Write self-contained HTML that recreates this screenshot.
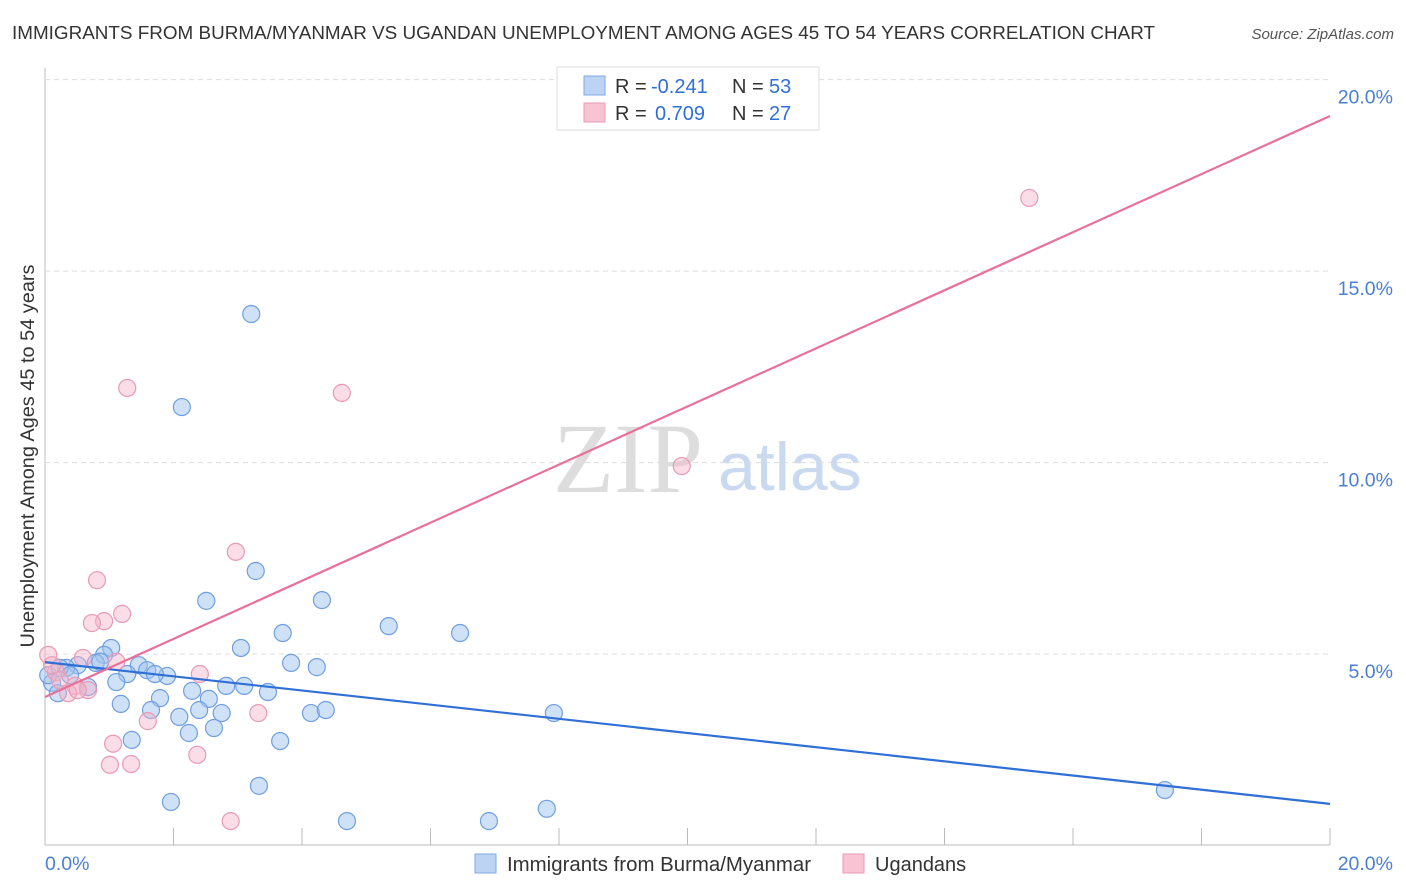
<!DOCTYPE html>
<html><head><meta charset="utf-8"><style>
body{margin:0;background:#fff;font-family:"Liberation Sans",sans-serif;}
svg{display:block}
</style></head><body>
<svg id="chart" width="1406" height="892">
<text x="12" y="39" font-size="18" fill="#333" textLength="1143" lengthAdjust="spacingAndGlyphs">IMMIGRANTS FROM BURMA/MYANMAR VS UGANDAN UNEMPLOYMENT AMONG AGES 45 TO 54 YEARS CORRELATION CHART</text>
<text x="1394" y="39" font-size="15" font-style="italic" fill="#555" text-anchor="end">Source: ZipAtlas.com</text>
<text x="553" y="492" font-size="100" font-family="Liberation Serif,serif" fill="#ddd">ZIP</text>
<text x="718" y="490" font-size="68" fill="#c9d9ef">atlas</text>
<text transform="translate(34,456) rotate(-90)" font-size="19" fill="#333" text-anchor="middle" textLength="383" lengthAdjust="spacingAndGlyphs">Unemployment Among Ages 45 to 54 years</text>
<g id="grid"></g><g id="marks"></g>
<g>
<rect x="557" y="67" width="262" height="63" fill="#fff" stroke="#ddd"/>
<rect x="584" y="76" width="21" height="19" fill="#bcd3f3" stroke="#7fa9e0"/>
<rect x="584" y="103" width="21" height="19" fill="#f8c3d3" stroke="#e99ab5"/>
<text x="615" y="93" font-size="20" fill="#333">R = <tspan x="651" fill="#2f6fd6">-0.241</tspan><tspan x="732">N = </tspan><tspan x="769" fill="#2f6fd6">53</tspan></text>
<text x="615" y="120" font-size="20" fill="#333">R = <tspan x="655" fill="#2f6fd6">0.709</tspan><tspan x="732">N = </tspan><tspan x="769" fill="#2f6fd6">27</tspan></text>
</g>
<g>
<rect x="475" y="854" width="21" height="19" fill="#bcd3f3" stroke="#7fa9e0"/>
<text x="507" y="871" font-size="20" fill="#333" textLength="304" lengthAdjust="spacingAndGlyphs">Immigrants from Burma/Myanmar</text>
<rect x="843" y="854" width="21" height="19" fill="#f8c3d3" stroke="#e99ab5"/>
<text x="875" y="871" font-size="20" fill="#333">Ugandans</text>
</g>
</svg>
<script>
const yTicks=[5,10,15,20];
const xTicks=[0,20];
const blueX=[3.21,2.13,3.28,2.51,4.31,5.35,6.46,3.70,3.05,1.03,0.92,3.83,4.23,1.46,1.59,1.90,1.71,1.28,0.51,0.79,0.33,0.11,0.20,0.67,1.11,2.29,2.82,3.10,3.47,1.79,1.18,2.55,1.65,2.09,2.40,2.75,4.14,4.37,7.92,2.63,2.24,1.35,3.66,3.33,1.96,4.70,6.91,7.81,17.43,0.05,0.23,0.39,0.86];
const blueY=[13.88,11.45,7.17,6.39,6.41,5.73,5.55,5.55,5.16,5.16,4.98,4.77,4.66,4.71,4.58,4.43,4.48,4.48,4.71,4.77,4.64,4.25,3.98,4.14,4.27,4.04,4.17,4.17,4.01,3.85,3.70,3.83,3.54,3.36,3.54,3.46,3.46,3.54,3.46,3.07,2.94,2.76,2.73,1.56,1.14,0.64,0.64,0.96,1.45,4.45,4.64,4.45,4.80];
const pinkX=[15.32,9.91,1.28,4.62,2.97,0.81,1.20,0.92,0.73,2.41,1.11,0.59,0.05,0.17,0.23,0.47,0.67,0.36,1.60,3.32,1.06,1.01,1.34,2.37,2.89,0.11,0.51];
const pinkY=[16.91,9.91,11.95,11.82,7.67,6.93,6.05,5.86,5.81,4.48,4.80,4.90,4.98,4.53,4.32,4.17,4.06,3.98,3.25,3.46,2.66,2.11,2.13,2.37,0.64,4.71,4.06];
const blueLine=[4.79,1.09];
const pinkLine=[3.88,19.05];
const NS='http://www.w3.org/2000/svg';
const X0=45,X1=1330,YB=845.6,PY=38.3;
const sx=v=>X0+(v/20)*(X1-X0);
const sy=v=>YB-v*PY;
function mk(p,t,a){const e=document.createElementNS(NS,t);for(const k in a)e.setAttribute(k,a[k]);p.appendChild(e);return e;}
const g=document.getElementById('grid'),m=document.getElementById('marks');
let ax=mk(g,'line',{x1:X0,y1:68,x2:X0,y2:845,stroke:'#bbb'});


let bx=mk(g,'line',{x1:X0,y1:845,x2:X1,y2:845,stroke:'#bbb'});


for(let i=0;i<=10;i++){const x=X0+i*(X1-X0)/10;const t=mk(g,'line',{x1:x,y1:828,x2:x,y2:845,stroke:'#bbb'});

}
yTicks.forEach(v=>{const l=mk(g,'line',{x1:X0,y1:sy(v),x2:X1,y2:sy(v),stroke:'#ddd','stroke-dasharray':'5,4'});


const t=mk(g,'text',{x:1393,y:sy(v)+24,'font-size':19.5,fill:'#4a7fd4','text-anchor':'end'});t.textContent=v.toFixed(1)+'%';

});
xTicks.forEach((v,i)=>{const t=mk(g,'text',{x:i?1393:45,y:870,'font-size':19.5,fill:'#4a7fd4','text-anchor':i?'end':'start'});t.textContent=v.toFixed(1)+'%';

});
blueX.forEach((v,i)=>{const c=mk(m,'circle',{cx:sx(v),cy:sy(blueY[i]),r:8.5,fill:'rgba(160,196,240,0.5)',stroke:'#6f9fe0','stroke-width':1.2});

});
pinkX.forEach((v,i)=>{const c=mk(m,'circle',{cx:sx(v),cy:sy(pinkY[i]),r:8.5,fill:'rgba(245,180,200,0.45)',stroke:'#e99ab5','stroke-width':1.2});

});
let bl=mk(m,'line',{x1:sx(0),y1:sy(blueLine[0]),x2:sx(20),y2:sy(blueLine[1]),stroke:'#2f6fd6','stroke-width':2.2});


let pl=mk(m,'line',{x1:sx(0),y1:sy(pinkLine[0]),x2:sx(20),y2:sy(pinkLine[1]),stroke:'#e8709a','stroke-width':2.2});


</script>
</body></html>
